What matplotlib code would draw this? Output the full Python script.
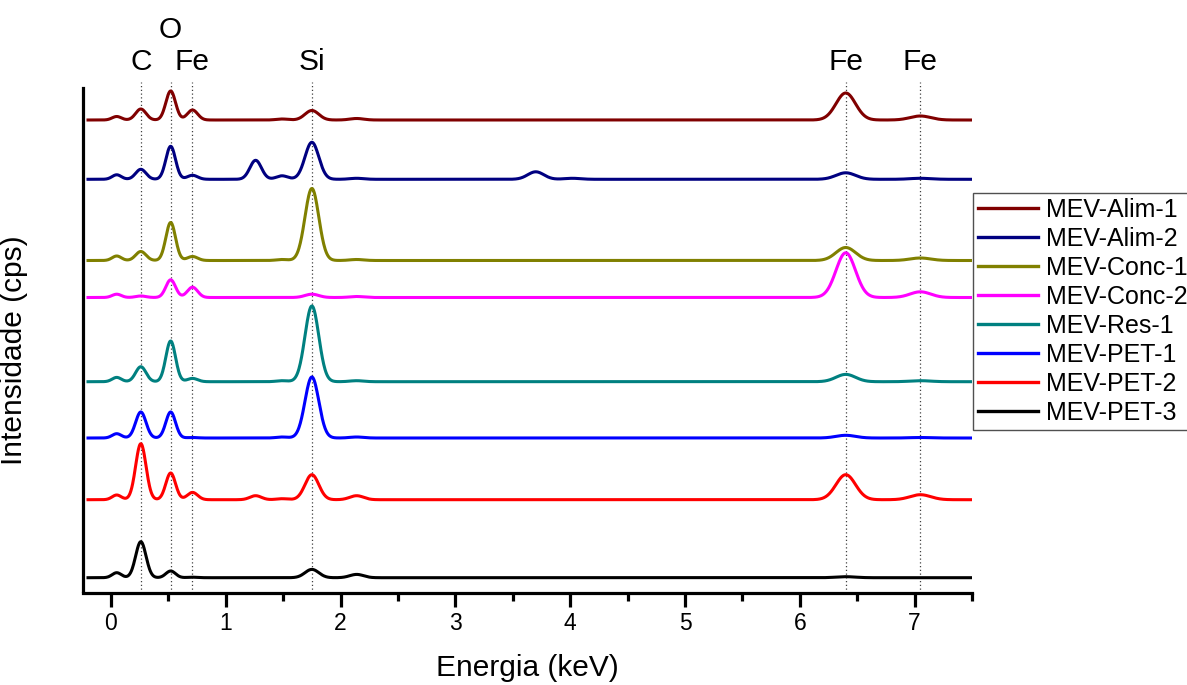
import numpy as np
import matplotlib
matplotlib.use("Agg")
import matplotlib.pyplot as plt

plt.rcParams["font.family"] = ["Liberation Sans", "DejaVu Sans"]

# Sample names, colours and vertical stacking offsets (cps, arbitrary)
samples = ["MEV-Alim-1", "MEV-Alim-2", "MEV-Conc-1", "MEV-Conc-2",
           "MEV-Res-1", "MEV-PET-1", "MEV-PET-2", "MEV-PET-3"]
colors = ["#800000", "#000080", "#808000", "#ff00ff",
          "#008080", "#0000ff", "#ff0000", "#000000"]
offsets = [473, 413.7, 332.5, 295.5, 211.3, 155, 93.3, 15.3]

# Peak lines found in the spectra (keV) and their width (sigma, keV)
peak_energy = [0.05, 0.26, 0.52, 0.71, 1.26, 1.49, 1.75, 2.14, 3.70, 4.02, 6.40, 7.05]
peak_sigma = [0.04, 0.045, 0.042, 0.045, 0.05, 0.05, 0.06, 0.06, 0.07, 0.07, 0.085, 0.09]

# Peak heights, one row per sample
peak_height = [
    [3.5, 11, 29, 10, 0, 1, 9.5, 1.5, 0, 0, 27, 4],
    [4.5, 10, 33, 4, 19, 3.5, 37, 1, 7.5, 1, 6.5, 1],
    [4.5, 9, 38, 4, 0, 1, 72, 1, 0, 0, 13, 2.5],
    [3.3, 1.5, 17.7, 10.3, 0, 0, 3.3, 1, 0, 0, 44.7, 5.7],
    [4.3, 15, 40.7, 3.3, 0, 1, 75.7, 1, 0, 0, 7.3, 1],
    [4.3, 26, 26, 0.5, 0, 1, 61, 1, 0, 0, 2.7, 0.5],
    [4.7, 56, 26.7, 7.3, 4, 1, 25, 4, 0, 0, 25, 5],
    [5, 36, 6.7, 0.5, 0, 0, 8.3, 3.3, 0, 0, 1, 0],
]

# Element markers
element_labels = ["C", "O", "Fe", "Si", "Fe", "Fe"]
element_energy = [0.26, 0.52, 0.71, 1.75, 6.40, 7.05]
element_raised = [False, True, False, False, False, False]


def spectrum(energy, heights):
    y = np.zeros_like(energy)
    for e0, s, h in zip(peak_energy, peak_sigma, heights):
        y += h * np.exp(-0.5 * ((energy - e0) / s) ** 2)
    return y


fig = plt.figure(figsize=(11.87, 6.85), dpi=100)
ax = fig.add_axes([0.0697, 0.1343, 0.7492, 0.7460])

energy = np.linspace(-0.2, 7.5, 2000)
for name, color, off, heights in zip(samples, colors, offsets, peak_height):
    ax.plot(energy, off + spectrum(energy, heights), color=color, lw=2.2,
            label=name, zorder=3)

for e in element_energy:
    ax.axvline(e, color="#404040", lw=0.9, ls=(0, (1, 2)), zorder=1)

ax.set_xlim(-0.246, 7.5)
ax.set_ylim(0, 511)

for lab, e, raised in zip(element_labels, element_energy, element_raised):
    ax.text(e, 563 if raised else 531, lab, ha="center", va="center",
            fontsize=21.5, clip_on=False)

ax.spines["top"].set_visible(False)
ax.spines["right"].set_visible(False)
ax.spines["left"].set_linewidth(2.3)
ax.spines["bottom"].set_linewidth(2.3)
ax.spines["left"].set_bounds(2, 505)
ax.set_yticks([])

ax.set_xticks(range(0, 8))
ax.set_xticks(np.arange(0.5, 7.6, 1.0), minor=True)
ax.tick_params(axis="x", which="major", direction="out", length=10, width=2.3,
               labelsize=16.5, pad=4)
ax.tick_params(axis="x", which="minor", direction="out", length=6, width=2.3)

ax.set_xlabel("Energia (keV)", fontsize=21.5, labelpad=13)
ax.set_ylabel("Intensidade (cps)", fontsize=21.5)
ax.yaxis.set_label_coords(-0.0615, 0.4755)

leg = ax.legend(loc="upper left", bbox_to_anchor=(973 / 1187, 1 - 193 / 685),
                bbox_transform=fig.transFigure, fontsize=18, frameon=True,
                fancybox=False, framealpha=1, edgecolor="#505050",
                borderaxespad=0, borderpad=0.2, handlelength=2.4,
                handletextpad=0.3, labelspacing=0.2)
leg.get_frame().set_linewidth(1.0)
for line in leg.get_lines():
    line.set_linewidth(2.4)

fig.savefig("out.png", dpi=100)
